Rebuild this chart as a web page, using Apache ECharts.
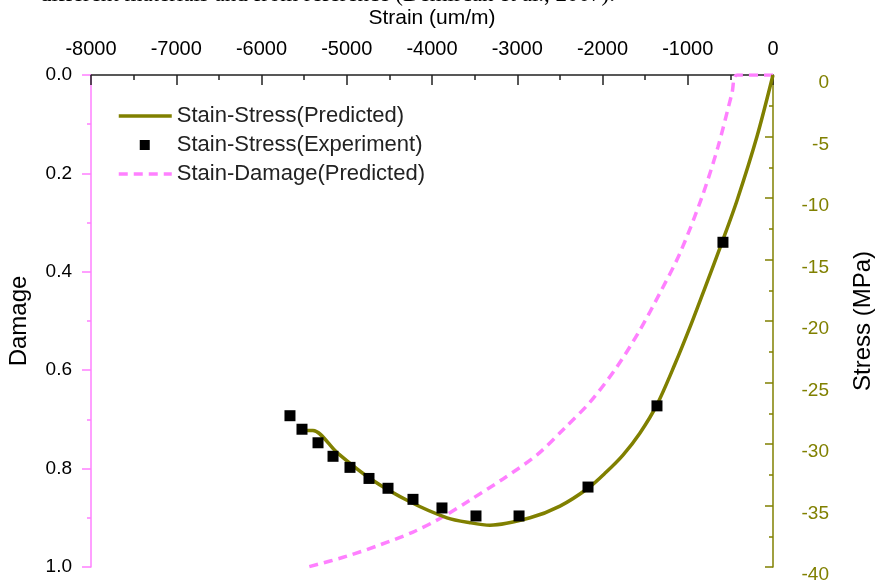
<!DOCTYPE html>
<html>
<head>
<meta charset="utf-8">
<script src="https://cdn.jsdelivr.net/npm/echarts@6/dist/echarts.min.js"></script>
<style>
  html, body { margin: 0; padding: 0; background: #fff; }
  #main { width: 875px; height: 583px; }
</style>
</head>
<body>
<div id="main"></div>
<script>
// strain (um/m) vs stress (MPa), predicted curve
const predStrain = [0, -188, -422, -598, -798, -974, -1150, -1361, -1560, -1760, -1959, -2170, -2499, -2850, -3320, -3554, -3824, -4258, -4727, -5114, -5396, -5490];
const predStress = [0, -5.0, -10.2, -13.6, -17.3, -20.5, -23.5, -26.8, -29.1, -30.9, -32.3, -33.6, -35.05, -36.0, -36.6, -36.4, -36.0, -34.7, -32.8, -30.7, -28.9, -28.9];

// experiment points
const expStrain = [-587, -1361, -2170, -2979, -3484, -3883, -4223, -4516, -4739, -4962, -5161, -5337, -5525, -5666];
const expStress = [-13.6, -26.9, -33.5, -35.85, -35.85, -35.2, -34.5, -33.6, -32.8, -31.9, -31.0, -29.9, -28.8, -27.7];

// strain vs damage, predicted
const dmgStrain = [0, -422, -481, -645, -833, -1091, -1326, -1560, -1830, -2147, -2440, -2768, -3167, -3554, -3871, -4223, -4610, -4997, -5455];
const dmgValue = [0, 0, 0.037, 0.146, 0.248, 0.362, 0.443, 0.518, 0.593, 0.665, 0.717, 0.772, 0.821, 0.864, 0.898, 0.929, 0.955, 0.978, 1.0];

const seriesNames = ['Stain-Stress(Predicted)', 'Stain-Stress(Experiment)', 'Stain-Damage(Predicted)'];

const olive = '#808000';
const pink = '#ff80ff';
const font = 'Liberation Sans, Arial, sans-serif';

function zip(a, b) {
    return a.map((v, i) => [v, b[i]]);
}

let chart = echarts.init(document.getElementById('main'));
let option = {
    animation: false,
    textStyle: { fontFamily: font },
    grid: { left: 91, right: 102, top: 75, bottom: 16, outerBoundsMode: 'none', containLabel: false },
    graphic: [{
        type: 'text',
        left: 40,
        top: -17,
        style: {
            text: 'different materials and from reference (Demircan et al., 2007).',
            font: '23px "Liberation Serif", serif',
            fill: '#000'
        }
    }],
    legend: {
        orient: 'vertical',
        left: 117,
        top: 105,
        padding: 0,
        itemWidth: 53,
        itemHeight: 10,
        itemGap: 7,
        textStyle: { fontSize: 22, lineHeight: 20, color: '#222', fontFamily: font },
        data: [
            { name: seriesNames[0], itemStyle: { color: 'rgba(0,0,0,0)', borderWidth: 0 }, lineStyle: { width: 3.5, color: olive } },
            { name: seriesNames[1], icon: 'path://M0,0L0,0M53,10L53,10M21,0L31,0L31,10L21,10Z' },
            { name: seriesNames[2], itemStyle: { color: 'rgba(0,0,0,0)', borderWidth: 0 }, lineStyle: { width: 3.5, color: pink, type: [9, 6] } }
        ]
    },
    xAxis: {
        type: 'value',
        position: 'top',
        min: -8000,
        max: 0,
        interval: 1000,
        name: 'Strain (um/m)',
        nameLocation: 'middle',
        nameGap: 46,
        nameTextStyle: { fontSize: 21, color: '#000' },
        axisLine: { onZero: false, lineStyle: { color: '#222', width: 1.5 } },
        axisTick: { inside: true, length: 10, lineStyle: { color: '#222', width: 1.5 } },
        minorTick: { show: true, splitNumber: 2, length: 5, lineStyle: { color: '#222', width: 1.5 } },
        axisLabel: { fontSize: 20, color: '#000', margin: 16, formatter: v => String(v) },
        splitLine: { show: false }
    },
    yAxis: [{
        type: 'value',
        position: 'left',
        min: 0,
        max: 1,
        interval: 0.2,
        inverse: true,
        name: 'Damage',
        nameLocation: 'middle',
        nameGap: 60,
        nameTextStyle: { fontSize: 24, color: '#000' },
        axisLine: { show: true, onZero: false, lineStyle: { color: pink, width: 1.5 } },
        axisTick: { length: 9, lineStyle: { color: pink, width: 1.5 } },
        minorTick: { show: true, splitNumber: 2, length: 4, lineStyle: { color: pink, width: 1.5 } },
        axisLabel: { fontSize: 19, color: '#000', margin: 19, formatter: v => v.toFixed(1) },
        splitLine: { show: false }
    }, {
        type: 'value',
        position: 'right',
        min: -40,
        max: 0,
        interval: 5,
        name: 'Stress (MPa)',
        nameLocation: 'middle',
        nameGap: 78,
        nameRotate: 90,
        nameTextStyle: { fontSize: 24, color: '#000' },
        axisLine: { show: true, onZero: false, lineStyle: { color: olive, width: 1.5 } },
        axisTick: { inside: true, length: 8, lineStyle: { color: olive, width: 1.5 } },
        minorTick: { show: true, splitNumber: 2, length: 4, lineStyle: { color: olive, width: 1.5 } },
        axisLabel: { fontSize: 19, color: olive, margin: 56, align: 'right', verticalAlign: 'top', lineHeight: 16 },
        splitLine: { show: false }
    }],
    series: [{
        name: seriesNames[0],
        type: 'line',
        yAxisIndex: 1,
        smooth: 0.3,
        symbol: 'none',
        lineStyle: { color: olive, width: 3.5 },
        itemStyle: { color: olive },
        data: zip(predStrain, predStress),
        z: 3
    }, {
        name: seriesNames[1],
        type: 'scatter',
        yAxisIndex: 1,
        symbol: 'rect',
        symbolSize: 11,
        itemStyle: { color: '#000', opacity: 1 },
        data: zip(expStrain, expStress),
        z: 4
    }, {
        name: seriesNames[2],
        type: 'line',
        yAxisIndex: 0,
        smooth: 0.3,
        symbol: 'none',
        lineStyle: { color: pink, width: 3.5, type: [9, 6] },
        itemStyle: { color: pink },
        data: zip(dmgStrain, dmgValue),
        z: 2
    }]
};
chart.setOption(option);
</script>
</body>
</html>
